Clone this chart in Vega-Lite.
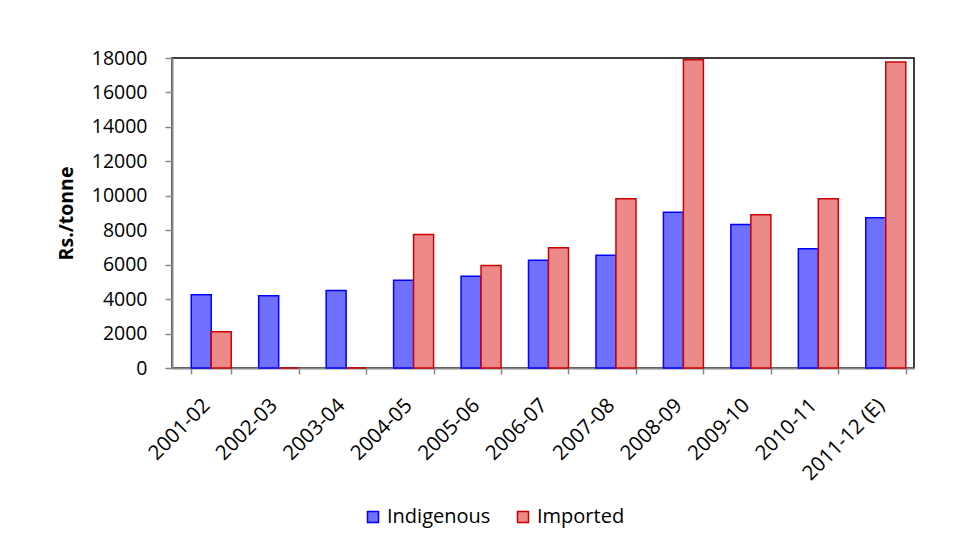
{
  "$schema": "https://vega.github.io/schema/vega-lite/v6.json",
  "width": 742,
  "height": 310,
  "autosize": {"type": "none"},
  "padding": {"left": 172, "top": 58, "right": 47, "bottom": 175},
  "background": "white",
  "data": {
    "values": [
      {"year": "2001-02", "type": "Indigenous", "value": 4250},
      {"year": "2001-02", "type": "Imported", "value": 2100},
      {"year": "2002-03", "type": "Indigenous", "value": 4200},
      {"year": "2002-03", "type": "Imported", "value": 0},
      {"year": "2003-04", "type": "Indigenous", "value": 4500},
      {"year": "2003-04", "type": "Imported", "value": 0},
      {"year": "2004-05", "type": "Indigenous", "value": 5100},
      {"year": "2004-05", "type": "Imported", "value": 7750},
      {"year": "2005-06", "type": "Indigenous", "value": 5330},
      {"year": "2005-06", "type": "Imported", "value": 5950},
      {"year": "2006-07", "type": "Indigenous", "value": 6260},
      {"year": "2006-07", "type": "Imported", "value": 6980},
      {"year": "2007-08", "type": "Indigenous", "value": 6550},
      {"year": "2007-08", "type": "Imported", "value": 9830},
      {"year": "2008-09", "type": "Indigenous", "value": 9050},
      {"year": "2008-09", "type": "Imported", "value": 17900},
      {"year": "2009-10", "type": "Indigenous", "value": 8330},
      {"year": "2009-10", "type": "Imported", "value": 8900},
      {"year": "2010-11", "type": "Indigenous", "value": 6920},
      {"year": "2010-11", "type": "Imported", "value": 9830},
      {"year": "2011-12 (E)", "type": "Indigenous", "value": 8720},
      {"year": "2011-12 (E)", "type": "Imported", "value": 17770}
    ]
  },
  "mark": {"type": "bar", "strokeWidth": 1.5},
  "encoding": {
    "x": {
      "field": "year",
      "type": "nominal",
      "sort": null,
      "scale": {"paddingInner": 0.4074, "paddingOuter": 0.2037, "align": 0.7},
      "axis": {
        "title": null,
        "labelAngle": -45,
        "tickBand": "extent",
        "tickOffset": -5.55,
        "labelOffset": -12,
        "labelPadding": 21,
        "tickSize": 6,
        "domainColor": "#888888",
        "domainWidth": 2,
        "tickColor": "#888888",
        "tickWidth": 1.5,
        "labelFont": "Open Sans",
        "labelFontSize": 20.5,
        "labelColor": "#000000"
      }
    },
    "xOffset": {
      "field": "type",
      "type": "nominal",
      "sort": ["Indigenous", "Imported"],
      "scale": {"paddingInner": 0, "paddingOuter": 0}
    },
    "y": {
      "field": "value",
      "type": "quantitative",
      "scale": {"domain": [0, 18000], "nice": false},
      "axis": {
        "title": "Rs./tonne",
        "values": [0, 2000, 4000, 6000, 8000, 10000, 12000, 14000, 16000, 18000],
        "format": "d",
        "grid": false,
        "tickSize": 7,
        "labelPadding": 18,
        "domainColor": "#888888",
        "domainWidth": 2,
        "tickColor": "#888888",
        "tickWidth": 1.5,
        "labelFont": "Open Sans",
        "labelFontSize": 19.5,
        "labelColor": "#000000",
        "titleFont": "Open Sans",
        "titleFontSize": 19.5,
        "titleFontWeight": "bold",
        "titleColor": "#000000",
        "titleAngle": -90,
        "titleX": -106,
        "titleY": 155,
        "titleAlign": "center",
        "titleBaseline": "middle"
      }
    },
    "fill": {
      "field": "type",
      "type": "nominal",
      "title": null,
      "scale": {"domain": ["Indigenous", "Imported"], "range": ["#7070ff", "#ec8a8a"]}
    },
    "stroke": {
      "field": "type",
      "type": "nominal",
      "title": null,
      "scale": {"domain": ["Indigenous", "Imported"], "range": ["#0000ff", "#cc0000"]}
    }
  },
  "config": {
    "view": {"stroke": "#000000", "strokeWidth": 1.5},
    "legend": {
      "orient": "none",
      "legendX": 191,
      "legendY": 449,
      "direction": "horizontal",
      "symbolType": "square",
      "symbolSize": 121,
      "symbolStrokeWidth": 1.5,
      "labelFont": "Open Sans",
      "labelFontSize": 20,
      "labelColor": "#000000",
      "labelOffset": 4,
      "columnPadding": 22
    }
  }
}
